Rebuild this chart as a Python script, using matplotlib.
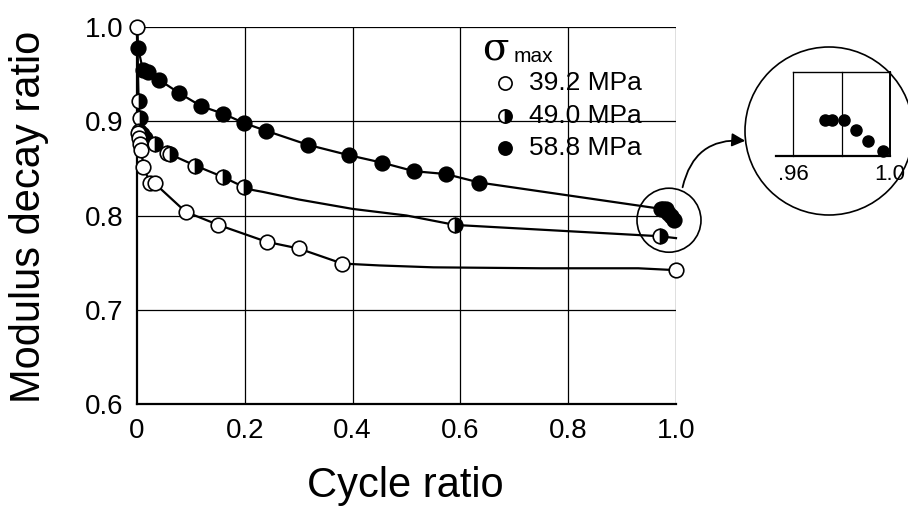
import matplotlib
matplotlib.use("Agg")
import matplotlib.pyplot as plt
from matplotlib.patches import Circle
from matplotlib.transforms import IdentityTransform
from matplotlib.lines import Line2D

plt.rcParams['font.family'] = ['Liberation Sans', 'DejaVu Sans']

# ---------------- data ----------------
x_39 = [0.0, 0.002, 0.004, 0.006, 0.008, 0.012, 0.024, 0.033, 0.09, 0.151, 0.241, 0.30, 0.381, 1.0]
y_39 = [1.0, 0.888, 0.882, 0.876, 0.870, 0.851, 0.835, 0.834, 0.804, 0.790, 0.772, 0.765, 0.749, 0.742]
# fitted curve nodes (line only)
cx_39 = [0.0, 0.002, 0.004, 0.006, 0.008, 0.012, 0.024, 0.033, 0.09, 0.151, 0.241, 0.30, 0.381, 0.45, 0.55, 0.75, 0.93, 1.0]
cy_39 = [1.0, 0.888, 0.882, 0.876, 0.870, 0.851, 0.835, 0.834, 0.804, 0.790, 0.772, 0.765, 0.749, 0.747, 0.745, 0.744, 0.744, 0.742]

x_49 = [0.003, 0.005, 0.004, 0.009, 0.014, 0.033, 0.055, 0.061, 0.108, 0.159, 0.199, 0.59, 0.97]
y_49 = [0.921, 0.903, 0.890, 0.886, 0.882, 0.876, 0.866, 0.865, 0.853, 0.841, 0.830, 0.790, 0.778]
cx_49 = [0.0, 0.003, 0.005, 0.009, 0.014, 0.033, 0.061, 0.108, 0.159, 0.199, 0.215, 0.234, 0.30, 0.40, 0.50, 0.59, 0.97, 1.0]
cy_49 = [1.0, 0.921, 0.903, 0.886, 0.882, 0.876, 0.865, 0.853, 0.841, 0.830, 0.827, 0.825, 0.817, 0.807, 0.800, 0.790, 0.778, 0.776]

x_58 = [0.002, 0.011, 0.021, 0.041, 0.078, 0.119, 0.16, 0.199, 0.239, 0.317, 0.393, 0.455, 0.514, 0.573, 0.635,
        0.973, 0.976, 0.981, 0.986, 0.991, 0.997]
y_58 = [0.978, 0.954, 0.952, 0.944, 0.930, 0.916, 0.908, 0.898, 0.890, 0.875, 0.864, 0.856, 0.847, 0.844, 0.835,
        0.807, 0.807, 0.807, 0.803, 0.799, 0.795]

xticks = [0, 0.2, 0.4, 0.6, 0.8, 1.0]
xticklabels = ['0', '0.2', '0.4', '0.6', '0.8', '1.0']
yticks = [0.6, 0.7, 0.8, 0.9, 1.0]
yticklabels = ['0.6', '0.7', '0.8', '0.9', '1.0']
legend_labels = ['39.2 MPa', '49.0 MPa', '58.8 MPa']
inset_ticks = [0.96, 1.0]
inset_ticklabels = ['.96', '1.0']

# ---------------- figure ----------------
W, H = 908, 514
fig = plt.figure(figsize=(W / 100, H / 100), dpi=100)
ax = fig.add_axes([137 / W, 1 - 404 / H, 539 / W, 377 / H])
ax.set_xlim(0, 1.0)
ax.set_ylim(0.6, 1.0)

for xv in xticks[1:]:
    ax.axvline(xv, color='black', lw=0.9, zorder=1)
for yv in yticks[1:]:
    ax.axhline(yv, color='black', lw=0.9, zorder=1)
for s in ['top', 'right']:
    ax.spines[s].set_visible(False)
for s in ['left', 'bottom']:
    ax.spines[s].set_linewidth(1.6)

ax.set_xticks(xticks)
ax.set_xticklabels(xticklabels)
ax.set_yticks(yticks)
ax.set_yticklabels(yticklabels)
ax.tick_params(length=0, labelsize=20, pad=10)

lw = 1.6
ms = 10.5
ax.plot(cx_39, cy_39, color='black', lw=lw, zorder=2, clip_on=False)
ax.plot(cx_49, cy_49, color='black', lw=lw, zorder=2, clip_on=False)
ax.plot([0.0] + x_58, [1.0] + y_58, color='black', lw=lw, zorder=2, clip_on=False)

ax.plot(x_58, y_58, 'o', ms=ms, mfc='black', mec='black', mew=1.2, zorder=3, clip_on=False)
ax.plot(x_49, y_49, 'o', ms=ms, fillstyle='right', mfc='black', mfcalt='white', mec='black', mew=1.2,
        zorder=4, clip_on=False)
ax.plot(x_39, y_39, 'o', ms=ms, mfc='white', mec='black', mew=1.2, zorder=5, clip_on=False)

fig.text(29 / W, 1 - 217 / H, 'Modulus decay ratio', rotation=90, ha='center', va='center', fontsize=30)
fig.text(405 / W, 1 - 486 / H, 'Cycle ratio', ha='center', va='center', fontsize=30)

# legend (manual)
fig.text(482 / W, 1 - 60 / H, 'σ', fontsize=28, family='DejaVu Serif', ha='left', va='baseline')
fig.text(514 / W, 1 - 62 / H, 'max', fontsize=15, ha='left', va='baseline')
leg_y = [83, 116, 148]
styles = [dict(mfc='white'), dict(mfc='black', mfcalt='white', fillstyle='right'), dict(mfc='black')]
for yy, lab, st in zip(leg_y, legend_labels, styles):
    ln = Line2D([505 / W], [1 - yy / H], marker='o', ms=9.5, mec='black', mew=1.2, ls='none',
                transform=fig.transFigure, **st)
    fig.add_artist(ln)
    fig.text(529 / W, 1 - yy / H, lab, fontsize=19, ha='left', va='center')

# small circle around cluster
fig.canvas.draw()
cpx = ax.transData.transform((0.987, 0.795))
fig.add_artist(Circle((cpx[0], cpx[1]), 32, transform=IdentityTransform(), fill=False,
                      ec='black', lw=1.2, zorder=10))

# big inset circle
fig.add_artist(Circle((829, H - 131), 84, transform=IdentityTransform(), fill=False,
                      ec='black', lw=1.2, zorder=10))

# arrow
fig.add_artist(matplotlib.patches.FancyArrowPatch((682, H - 190), (748, H - 141),
               transform=IdentityTransform(), connectionstyle='arc3,rad=-0.45',
               arrowstyle='-|>,head_length=8,head_width=4', color='black', lw=1.3, zorder=10))

# inset axes
axi = fig.add_axes([793 / W, 1 - 156 / H, 97 / W, 84 / H])
axi.set_xlim(0.96, 1.0)
iy0, iy1 = 0.793, 0.8256
axi.set_ylim(iy0, iy1)
axi.axis('off')
axi.plot([0.96, 1.0], [iy1, iy1], color='black', lw=1.0, clip_on=False)
axi.plot([0.96, 0.96], [iy0, iy1], color='black', lw=0.9, clip_on=False)
axi.plot([0.98, 0.98], [iy0, iy1], color='black', lw=0.9, clip_on=False)
axi.plot([1.0, 1.0], [iy0, iy1], color='black', lw=1.4, clip_on=False)
axi.plot([0.953, 1.0], [iy0, iy0], color='black', lw=1.6, clip_on=False)
axi.plot(x_58[-6:], y_58[-6:], 'o', ms=8, color='black', clip_on=False)
for tv, tl in zip(inset_ticks, inset_ticklabels):
    axi.text(tv, iy0 - 0.0032, tl, ha='center', va='top', fontsize=16)

fig.savefig('out.png', dpi=100)
